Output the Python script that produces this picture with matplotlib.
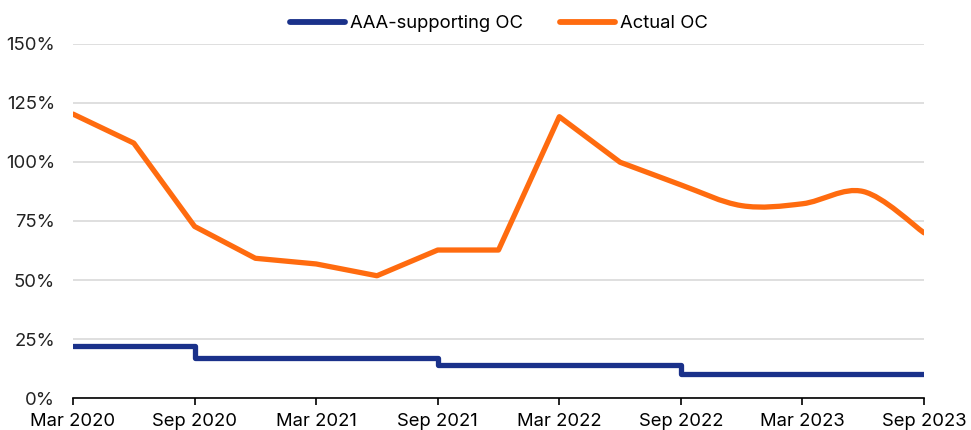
import matplotlib.pyplot as plt
from matplotlib.ticker import FuncFormatter
from matplotlib.path import Path
from matplotlib.patches import PathPatch
from matplotlib.lines import Line2D

# quarterly observations, Mar 2020 .. Sep 2023
quarters = ["Mar 2020", "Jun 2020", "Sep 2020", "Dec 2020", "Mar 2021", "Jun 2021",
            "Sep 2021", "Dec 2021", "Mar 2022", "Jun 2022", "Sep 2022", "Dec 2022",
            "Mar 2023", "Jun 2023", "Sep 2023"]
aaa_oc = [22, 22, 17, 17, 17, 17, 14, 14, 14, 14, 10, 10, 10, 10, 10]
actual_oc = [120.3, 108, 72.7, 59.2, 56.8, 51.8, 62.7, 62.7, 119.2, 99.9,
             90.3, 81.5, 82.3, 87.5, 70]
smooth_from = 10   # the line is drawn smoothed from Sep 2022 on

blue = "#1a318a"
orange = "#ff6b0f"
fs = 13.3

plt.rcParams['font.family'] = ['Inter', 'DejaVu Sans']

fig = plt.figure(figsize=(9.71, 4.30), dpi=100)
ax = fig.add_axes([0.0752, 0.0744, 0.8764, 0.8233])

x = list(range(len(quarters)))
ax.plot(x, aaa_oc, color=blue, lw=3.8, drawstyle='steps-post',
        solid_capstyle='round', solid_joinstyle='round')

# orange: straight segments, then a catmull-rom style bezier for the tail
verts = [(x[0], actual_oc[0])]
codes = [Path.MOVETO]
for i in range(1, smooth_from + 1):
    verts.append((x[i], actual_oc[i]))
    codes.append(Path.LINETO)
n = len(x)
for i in range(smooth_from, n - 1):
    p0 = (x[i - 1], actual_oc[i - 1])
    p1 = (x[i], actual_oc[i])
    p2 = (x[i + 1], actual_oc[i + 1])
    p3 = (x[i + 2], actual_oc[i + 2]) if i + 2 < n else p2
    c1 = (p1[0] + (p2[0] - p0[0]) / 6, p1[1] + (p2[1] - p0[1]) / 6)
    c2 = (p2[0] - (p3[0] - p1[0]) / 6, p2[1] - (p3[1] - p1[1]) / 6)
    verts += [c1, c2, p2]
    codes += [Path.CURVE4] * 3
ax.add_patch(PathPatch(Path(verts, codes), fill=False, edgecolor=orange, lw=3.8,
                       capstyle='round', joinstyle='round'))

ax.set_xlim(0, len(quarters) - 1)
ax.set_ylim(0, 150)
ax.set_yticks([0, 25, 50, 75, 100, 125, 150])
ax.yaxis.set_major_formatter(FuncFormatter(lambda v, p: f"{v:.0f}%"))
ax.set_xticks(x[::2])
ax.set_xticklabels(quarters[::2])

ax.grid(axis='y', color='#d9d9d9', lw=1.2)
ax.set_axisbelow(True)
for s in ['top', 'right', 'left']:
    ax.spines[s].set_visible(False)
ax.spines['bottom'].set_color('black')
ax.spines['bottom'].set_linewidth(1.2)
ax.tick_params(axis='y', length=0, labelsize=fs, pad=13)
ax.tick_params(axis='x', length=5, width=1.2, labelsize=fs, pad=6)
for lbl in ax.get_yticklabels():
    lbl.set_color('#222222')

handles = [Line2D([], [], color=blue, lw=4.2, solid_capstyle='round'),
           Line2D([], [], color=orange, lw=4.2, solid_capstyle='round')]
ax.legend(handles, ["AAA-supporting OC", "Actual OC"], loc='lower center',
          bbox_to_anchor=(0.5, 1.0), ncol=2, frameon=False,
          fontsize=fs, handlelength=3.0, handletextpad=0.25, columnspacing=2.0,
          borderaxespad=0.25)

fig.savefig("out.png", dpi=100)
